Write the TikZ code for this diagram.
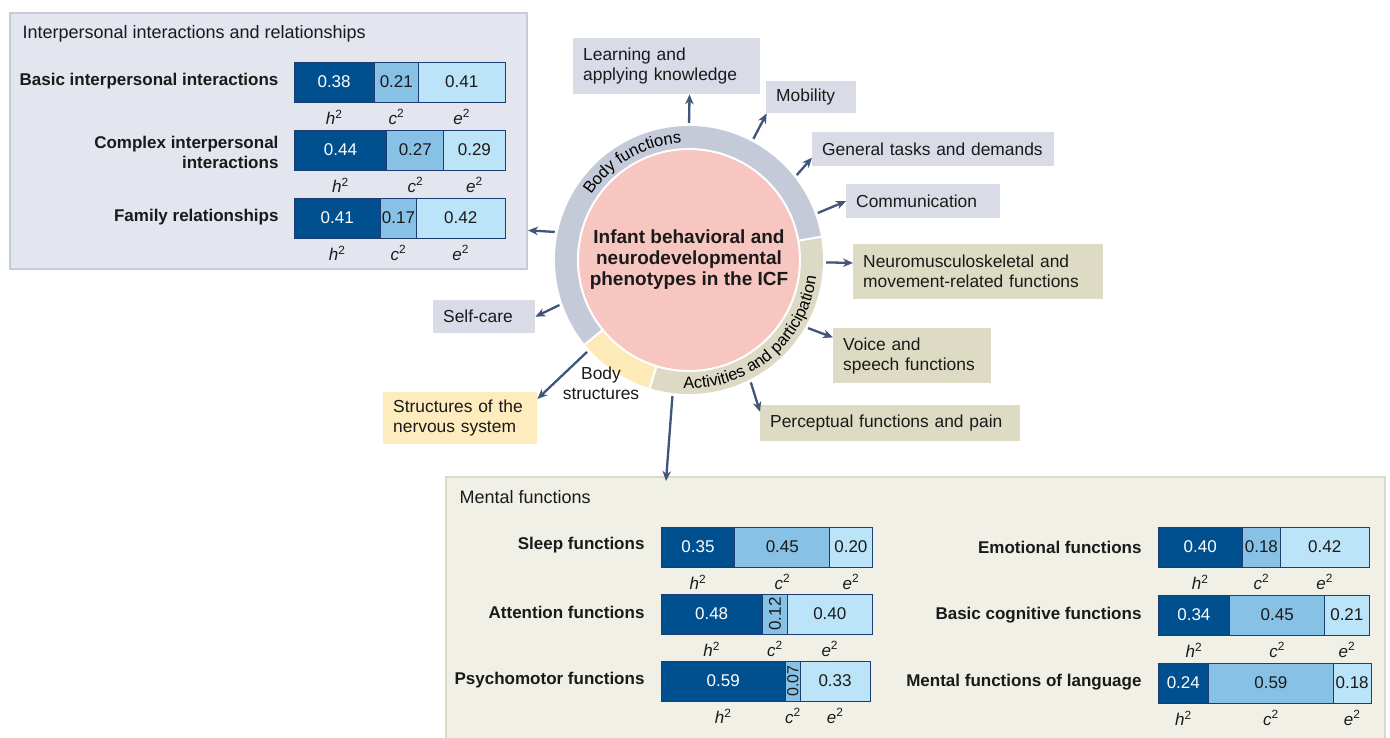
\documentclass[tikz,border=0pt]{standalone}
\usepackage{fontspec}
\setmainfont{Liberation Sans}
\usepackage{graphicx}
\usetikzlibrary{arrows.meta,decorations.text}

\definecolor{ipfillc}{HTML}{E3E5EF}
\definecolor{iplinec}{HTML}{C6CBDB}
\definecolor{mffillc}{HTML}{F1F0E6}
\definecolor{mflinec}{HTML}{DCDAC5}
\definecolor{gboxc}{HTML}{D9DCE7}
\definecolor{kboxc}{HTML}{DDDBC3}
\definecolor{yboxc}{HTML}{FEEBBE}
\definecolor{ringbf}{HTML}{C5CAD9}
\definecolor{ringbs}{HTML}{FEEAB9}
\definecolor{ringap}{HTML}{DCDAC4}
\definecolor{corepink}{HTML}{F8C6C1}
\definecolor{arrowcol}{HTML}{3F5579}
\definecolor{hcol}{HTML}{00508F}
\definecolor{ccol}{HTML}{88C1E6}
\definecolor{ecol}{HTML}{BCE4F8}
\definecolor{barline}{HTML}{1C3C72}
\definecolor{ink}{HTML}{1A1A1A}

\newcommand\ringfont{\fontsize{16.5}{16.5}\selectfont}

% one heritability bar: name, left x, top y, h2, c2, e2, content of the c2 cell
\newcommand{\herbar}[7]{%
  \pgfmathsetmacro\segh{211*#4}%
  \pgfmathsetmacro\segc{211*#5}%
  \pgfmathsetmacro\sege{211*#6}%
  \node[seg, fill=hcol, text=white, minimum width=\segh pt] (#1h) at (#2,#3) {#4};
  \node[seg, fill=ccol, minimum width=\segc pt] (#1c) at (#1h.north east) {#7};
  \node[seg, fill=ecol, minimum width=\sege pt] (#1e) at (#1c.north east) {#6};
  \path (#1h.south) ++(0,15) node[var] (#1hl) {\textit{h}\textsuperscript{2}};
  \path (#1c.south) ++(0,15) node[var] (#1cl) {\textit{c}\textsuperscript{2}};
  \path (#1e.south) ++(0,15) node[var] (#1el) {\textit{e}\textsuperscript{2}};
}

\begin{document}
\begin{tikzpicture}[x=1pt,y=-1pt,
  every node/.style={text=ink},
  panel/.style={anchor=north west, line width=2pt, inner sep=0pt},
  title/.style={anchor=west, font=\fontsize{18}{20}\selectfont},
  lbox/.style={anchor=north west, inner xsep=10pt, inner ysep=0pt, align=left,
    font=\fontsize{17.4}{20}\selectfont},
  rowlab/.style={anchor=east, align=right, font=\bfseries\fontsize{17}{20}\selectfont},
  seg/.style={anchor=north west, draw=barline, line width=0.8pt, minimum height=40pt,
    inner sep=0pt, outer sep=0pt, font=\fontsize{17}{17}\selectfont},
  var/.style={inner sep=0pt, font=\fontsize{17}{17}\selectfont},
  arr/.style={draw=arrowcol, line width=2.3pt, -{Stealth[length=10pt,width=8.5pt]},
    shorten <=3pt}
]
\clip (0,0) rectangle (1390,738);
\fill[white] (0,0) rectangle (1390,738);

% ---------- panels ----------
\node[panel, fill=ipfillc, draw=iplinec, minimum width=517pt, minimum height=256pt] (ip) at (9,12) {};
\node[panel, fill=mffillc, draw=mflinec, minimum width=939pt, minimum height=290pt] (mf) at (445,476) {};
\node[title] (iptitle) at (19,34) {Interpersonal interactions and relationships};
\node[title] (mftitle) at (456,497) {Mental functions};

% ---------- interpersonal bars ----------
\node[rowlab] (lbasic) at (282,81) {Basic interpersonal interactions};
\herbar{bi}{294}{62}{0.38}{0.21}{0.41}{0.21}
\node[rowlab] (lcomplex) at (282,152) {Complex interpersonal\\interactions};
\herbar{ci}{294}{130}{0.44}{0.27}{0.29}{0.27}
\node[rowlab] (lfamily) at (282,217) {Family relationships};
\herbar{fr}{294}{198}{0.41}{0.17}{0.42}{0.17}

% ---------- mental function bars ----------
\node[rowlab] (lsleep) at (648,545) {Sleep functions};
\herbar{sl}{661}{527}{0.35}{0.45}{0.20}{0.45}
\node[rowlab] (lattn) at (648,612) {Attention functions};
\herbar{at}{661}{594}{0.48}{0.12}{0.40}{\rotatebox{90}{0.12}}
\node[rowlab] (lpsy) at (648,680) {Psychomotor functions};
\herbar{ps}{661}{661}{0.59}{0.07}{0.33}{\rotatebox{90}{\fontsize{16}{16}\selectfont 0.07}}

\node[rowlab] (lemo) at (1145,547) {Emotional functions};
\herbar{em}{1158}{527}{0.40}{0.18}{0.42}{0.18}
\node[rowlab] (lcog) at (1145,615) {Basic cognitive functions};
\herbar{bc}{1158}{595}{0.34}{0.45}{0.21}{0.45}
\node[rowlab] (llang) at (1145,682) {Mental functions of language};
\herbar{ml}{1158}{663}{0.24}{0.59}{0.18}{0.59}

% ---------- central ring ----------
\node[circle, minimum size=268pt, inner sep=0pt] (ring) at (689,260) {};
\begin{scope}[shift={(ring.center)}, x=1pt, y=1pt]
  \fill[ringbf] (10:134) arc[start angle=10, end angle=219, radius=134]
    -- (219:108) arc[start angle=219, end angle=10, radius=108] -- cycle;
  \fill[ringbs] (219:134) arc[start angle=219, end angle=253, radius=134]
    -- (253:108) arc[start angle=253, end angle=219, radius=108] -- cycle;
  \fill[ringap] (253:134) arc[start angle=253, end angle=370, radius=134]
    -- (370:108) arc[start angle=370, end angle=253, radius=108] -- cycle;
  \foreach \a in {10,219,253} \draw[white, line width=2pt] (\a:108) -- (\a:135);
  \path[decorate, decoration={text along path, text align=center,
      text={|\ringfont|Body functions}}]
    (175:117.5) arc[start angle=175, end angle=65, radius=117.5];
  \path[decorate, decoration={text along path, text align=center,
      text={|\ringfont|Activities and participation}}]
    (250:128.5) arc[start angle=250, end angle=370, radius=128.5];
\end{scope}
\node[circle, fill=corepink, draw=white, line width=2pt, minimum size=222pt, inner sep=0pt,
  align=center, font=\bfseries\fontsize{19}{21}\selectfont] (core) at (689,260)
  {Infant behavioral and\\neurodevelopmental\\phenotypes in the ICF};
\node[align=center, font=\fontsize{17.4}{20}\selectfont] (bslab) at (601,383) {Body\\structures};

% ---------- category boxes ----------
\node[lbox, fill=gboxc, text width=167pt, minimum height=56pt] (learn) at (573,38) {Learning and\\applying knowledge};
\node[lbox, fill=gboxc, text width=70pt, minimum height=32pt] (mob) at (766,81) {Mobility};
\node[lbox, fill=gboxc, text width=222pt, minimum height=34pt] (gen) at (812,132) {General tasks and demands};
\node[lbox, fill=gboxc, text width=134pt, minimum height=34pt] (comm) at (846,184) {Communication};
\node[lbox, fill=kboxc, text width=230pt, minimum height=55pt] (neuro) at (853,244) {Neuromusculoskeletal and\\movement-related functions};
\node[lbox, fill=kboxc, text width=138pt, minimum height=55pt] (voice) at (833,328) {Voice and\\speech functions};
\node[lbox, fill=kboxc, text width=240pt, minimum height=36pt] (perc) at (760,405) {Perceptual functions and pain};
\node[lbox, fill=gboxc, text width=82pt, minimum height=33pt] (self) at (433,300) {Self-care};
\node[lbox, fill=yboxc, text width=134pt, minimum height=52pt] (struct) at (383,392) {Structures of the\\nervous system};

\coordinate (mtip) at (666,481);

% ---------- connectors ----------
\draw[arr] (ring.90) -- (learn.-51);
\draw[arr] (ring.62) -- (mob.200);
\draw[arr] (ring.38) -- (gen.184);
\draw[arr] (ring.20) -- (comm.west);
\draw[arr] (ring.-1) -- (neuro.176);
\draw[arr] (ring.-30) -- (voice.167);
\draw[arr] (ring.-63) -- (perc.175);
\draw[arr] (ring.-97) -- (mtip);
\draw[arr] (ring.222) -- (struct.14);
\draw[arr] (ring.199) -- (self.east);
\draw[arr] (ring.168) -- (ip.-19);
\end{tikzpicture}
\end{document}
